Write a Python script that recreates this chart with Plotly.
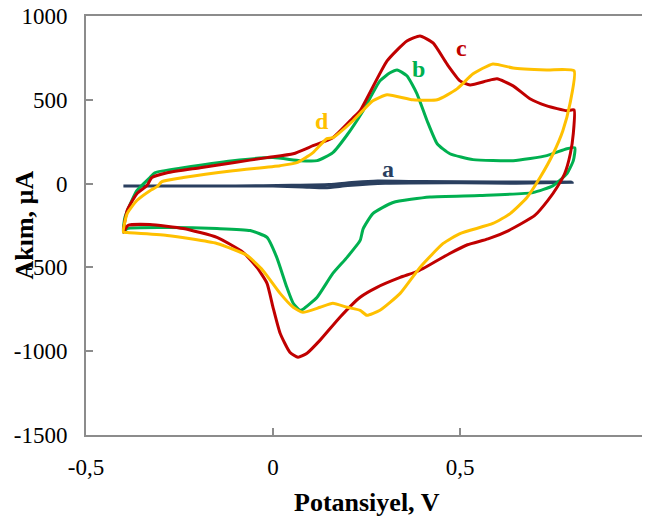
import plotly.graph_objects as go

# Curve a (navy)
a_x = [-0.40, -0.30, -0.10, 0.05, 0.15, 0.22, 0.28, 0.40, 0.60, 0.80,
       0.65, 0.50, 0.30, 0.20, 0.14, 0.08, 0.00, -0.20, -0.40]
a_y = [-15, -15, -14, -10, -5, 8, 15, 12, 10, 8,
       2, 5, 2, -12, -25, -20, -15, -15, -15]

# Curve b (green)
b_x = [-0.40, -0.396, -0.364, -0.329, -0.316, -0.24, -0.107, 0.0, 0.072, 0.118, 0.16, 0.198,
       0.241, 0.286, 0.313, 0.332, 0.358, 0.385, 0.412, 0.439, 0.473, 0.535, 0.642, 0.732,
       0.786, 0.807,
       0.803, 0.786, 0.749, 0.695, 0.553, 0.42, 0.321, 0.267, 0.241, 0.233, 0.198, 0.16,
       0.118, 0.08, 0.072, 0.054, 0.037, 0.01, -0.016, -0.061, -0.15, -0.283, -0.39, -0.40]
b_y = [-290, -202, -42, 36, 65, 95, 137, 155, 137, 137, 185, 290,
       435, 613, 661, 678, 643, 536, 375, 238, 178, 143, 137, 167,
       208, 214,
       137, 60, -12, -54, -71, -80, -113, -179, -270, -339, -440, -536,
       -678, -750, -756, -714, -619, -440, -321, -280, -268, -262, -268, -290]

# Curve c (red)
c_x = [-0.40, -0.39, -0.364, -0.337, -0.324, -0.283, -0.195, -0.107, -0.016, 0.054, 0.107,
       0.16, 0.214, 0.233, 0.305, 0.358, 0.393, 0.428, 0.465, 0.50, 0.527, 0.572, 0.599,
       0.642, 0.687, 0.732, 0.786, 0.805,
       0.803, 0.795, 0.78, 0.76, 0.735, 0.70, 0.63, 0.575, 0.52, 0.47, 0.39, 0.34, 0.278,
       0.233, 0.179, 0.126, 0.091, 0.067, 0.045, 0.019, 0.0, -0.016, -0.043, -0.08, -0.15,
       -0.24, -0.329, -0.388, -0.40]
c_y = [-290, -160, -60, -12, 36, 65, 95, 125, 155, 178, 226,
       274, 393, 435, 732, 851, 881, 839, 714, 613, 589, 613, 625,
       583, 506, 464, 435, 440,
       300, 178, 60, -20, -100, -190, -280, -330, -365, -420, -520, -560, -619,
       -678, -797, -934, -1012, -1036, -1006, -893, -738, -595, -500, -410, -321,
       -268, -244, -250, -290]

# Curve d (orange)
d_x = [-0.40, -0.39, -0.364, -0.329, -0.31, -0.297, -0.24, -0.107, 0.019, 0.064, 0.107,
       0.144, 0.16, 0.214, 0.267, 0.305, 0.374, 0.439, 0.492, 0.535, 0.588, 0.642, 0.732,
       0.805,
       0.794, 0.775, 0.749, 0.714, 0.679, 0.634, 0.588, 0.5, 0.455, 0.393, 0.34, 0.286,
       0.251, 0.233, 0.198, 0.16, 0.126, 0.08, 0.054, 0.019, -0.027, -0.07, -0.15, -0.283,
       -0.39, -0.40]
d_y = [-290, -179, -101, -42, -18, 12, 36, 77, 107, 125, 185,
       268, 274, 375, 494, 530, 500, 500, 565, 655, 714, 690, 678,
       673,
       476, 315, 178, 36, -83, -179, -238, -298, -357, -500, -655, -756,
       -786, -756, -738, -714, -738, -768, -738, -655, -518, -428, -357, -309,
       -292, -290]

labels = ["a", "b", "c", "d"]
label_x = [0.307, 0.388, 0.503, 0.131]
label_y = [89, 684, 809, 375]
colors = ["#2A3F5F", "#00B050", "#C00000", "#FFC000"]

x_tickvals = [-0.5, 0, 0.5, 1]
x_ticktext = ["-0,5", "0", "0,5", "1"]
y_tickvals = [-1500, -1000, -500, 0, 500, 1000]
y_ticktext = ["-1500", "-1000", "-500", "0", "500", "1000"]

fig = go.Figure()
series = [(a_x, a_y), (b_x, b_y), (c_x, c_y), (d_x, d_y)]
for (xs, ys), col, name in zip(series, colors, labels):
    fig.add_trace(go.Scatter(x=xs, y=ys, mode="lines", name=name,
                             line=dict(color=col, width=3, shape="spline", smoothing=0.5)))

serif = "Liberation Serif, Times New Roman, serif"
for t, lx, ly, col in zip(labels, label_x, label_y, colors):
    fig.add_annotation(x=lx, y=ly, text="<b>%s</b>" % t, showarrow=False,
                       font=dict(family=serif, size=24, color=col))

fig.add_annotation(xref="paper", yref="paper", x=0.5, y=0, yanchor="middle", yshift=-67,
                   text="<b>Potansiyel, V</b>", showarrow=False,
                   font=dict(family=serif, size=26, color="black"))
fig.add_annotation(xref="paper", yref="paper", x=0, y=0.5, xanchor="center", xshift=-62,
                   text="<b>Akım, µA</b>", textangle=-90, showarrow=False,
                   font=dict(family=serif, size=26, color="black"))

axis_common = dict(showline=True, linecolor="#8C8C8C", linewidth=2, mirror=True,
                   ticks="inside", ticklen=7, tickwidth=2, tickcolor="#8C8C8C",
                   showgrid=False, zeroline=False, automargin=False,
                   ticklabeloverflow="allow",
                   tickfont=dict(family=serif, size=23, color="black"))

# page body adds an 8px offset, so the figure is 642x513 with margins adjusted
fig.update_layout(
    width=642, height=513,
    margin=dict(l=78, r=3, t=8, b=86),
    paper_bgcolor="white", plot_bgcolor="white",
    showlegend=False,
    xaxis=dict(range=[-0.5, 1], tickvals=x_tickvals, ticktext=x_ticktext,
               ticklabelstandoff=10, **axis_common),
    yaxis=dict(range=[-1500, 1000], tickvals=y_tickvals, ticktext=y_ticktext,
               ticklabelstandoff=12, **axis_common),
)

fig.write_html("out.html")
